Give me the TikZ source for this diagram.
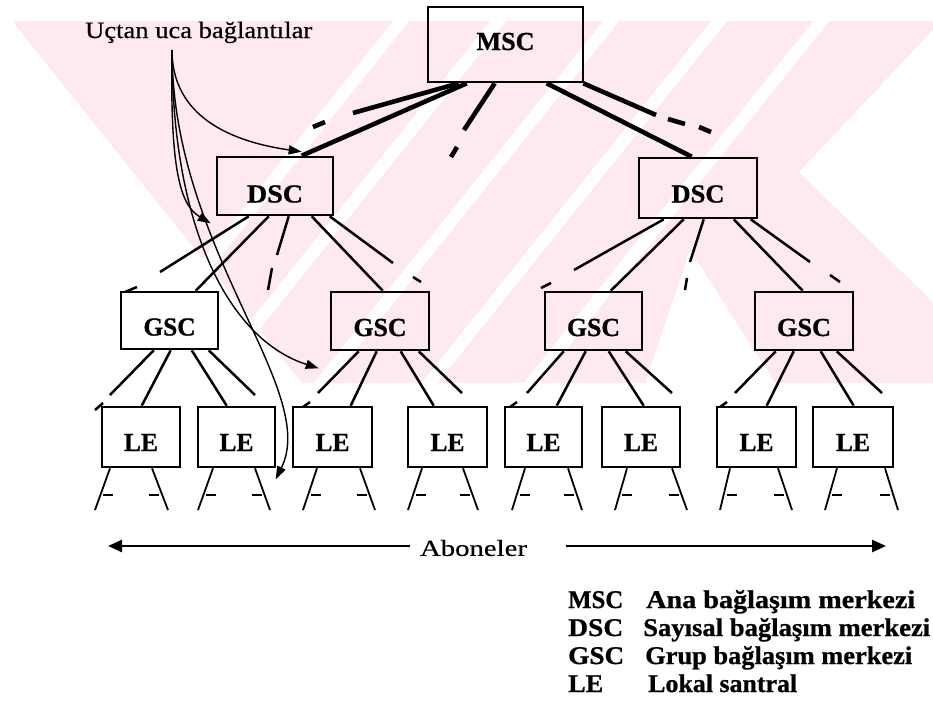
\documentclass[tikz,border=0pt]{standalone}
\usepackage{fontspec}
\setmainfont{Liberation Serif}[UprightFeatures={FakeBold=0.4}, BoldFeatures={FakeBold=0.8}]
\usepackage{graphicx}
\usetikzlibrary{arrows.meta}
\definecolor{wm}{RGB}{253,233,238}
\newcommand\fitw[2]{\resizebox{#1pt}{\height}{#2}}
\newcommand\blab[3]{\raisebox{-#1pt}[0pt][0pt]{\fitw{#2}{#3}}}
\begin{document}
\begin{tikzpicture}[x=1pt,y=-1pt,
  box/.style={draw, line width=2.6pt, rectangle, inner sep=0pt, font=\fontsize{26}{30}\selectfont\bfseries},
  thk/.style={line width=4.6pt},
  ln/.style={line width=2.5pt},
  leg/.style={line width=1.8pt},
  tick/.style={line width=1.3pt},
  cv/.style={line width=1.4pt, -{Triangle[length=13pt,width=9pt]}},
  abarr/.style={line width=2.6pt, -{Triangle[length=14pt,width=12pt]}},
  lgd/.style={anchor=base west, inner sep=0pt, font=\fontsize{25.5}{28}\selectfont\bfseries},
]
\useasboundingbox (0,0) rectangle (933,705);

% watermark
\begin{scope}
\clip (0,21) rectangle (933,383);
\fill[wm] (0,21) rectangle (933,383);
\fill[white] (0,21) -- (12,21) -- (302,383) -- (0,383) -- cycle;
\fill[white] (933,30) -- (799,172) -- (933,302) -- cycle;
\fill[white] (690,250) -- (645,383) -- (775,383) -- cycle;
\foreach \c in {410,507,620,728,830}{
  \fill[white] ({\c-16.8},21) -- ({\c+16-16.8},21) -- ({\c+16-306.4},383) -- ({\c-306.4},383) -- cycle;
}
\end{scope}

% boxes
\node[box, minimum width=155pt, minimum height=75pt] (m) at (505.5,44.5) {\blab{5.5}{58}{MSC}};
\node[box, minimum width=116pt, minimum height=58pt] (dl) at (275,186) {\blab{16.5}{56}{DSC}};
\node[box, minimum width=118pt, minimum height=60pt] (dr) at (698,188) {\blab{14.5}{53}{DSC}};
\node[box, minimum width=97pt, minimum height=57pt] (g1) at (169.5,320.5) {\blab{15}{52}{GSC}};
\node[box, minimum width=98pt, minimum height=58pt] (g2) at (380,321) {\blab{15}{53}{GSC}};
\node[box, minimum width=97pt, minimum height=58pt] (g3) at (593.5,321) {\blab{15}{53}{GSC}};
\node[box, minimum width=98pt, minimum height=58pt] (g4) at (804,321) {\blab{15}{54}{GSC}};
\foreach \n/\x/\w in {le1/141/78, le2/236.5/77, le3/332.5/79, le4/447.5/79, le5/543.5/77, le6/641/78, le7/756.5/79, le8/853/80}{
  \node[box, minimum width=\w pt, minimum height=60pt] (\n) at (\x,437) {\blab{14}{34}{LE}};
}

% MSC links
\draw[thk] ([xshift=32pt]m.south west) -- (353,113);
\draw[thk] (325,122) -- (313,127);
\draw[thk] ([xshift=40pt]m.south west) -- ([xshift=86pt]dl.north west);
\draw[thk] ([xshift=68pt]m.south west) -- (464,130);
\draw[thk] (457,147) -- (451,157);
\draw[thk] ([xshift=120pt]m.south west) -- ([xshift=54pt]dr.north west);
\draw[thk] ([xshift=-1pt]m.south east) -- (656,115);
\draw[thk] (668,119) -- (685,124);
\draw[thk] (699,127) -- (711,132);

% DSC left links
\draw[ln] ([xshift=33pt]dl.south west) -- (160,272);
\draw[ln] (137,287) -- (125,292);
\draw[ln] ([xshift=53pt]dl.south west) -- ([xshift=76pt]g1.north west);
\draw[ln] ([xshift=73pt]dl.south west) -- (277,255);
\draw[ln] (272,268) -- (268,290);
\draw[ln] ([xshift=96pt]dl.south west) -- ([xshift=53pt]g2.north west);
\draw[ln] ([xshift=114pt]dl.south west) -- (393,263);
\draw[ln] (413,277) -- (421,282);

% DSC right links
\draw[ln] ([xshift=26pt]dr.south west) -- (574,270);
\draw[ln] (551,283) -- (541,288);
\draw[ln] ([xshift=46pt]dr.south west) -- ([xshift=67pt]g3.north west);
\draw[ln] ([xshift=66pt]dr.south west) -- (690,262);
\draw[ln] (687,278) -- (685,290);
\draw[ln] ([xshift=96pt]dr.south west) -- ([xshift=49pt]g4.north west);
\draw[ln] ([xshift=113pt]dr.south west) -- (810,262);
\draw[ln] (830,275) -- (840,282);

% GSC links
\draw[ln] ([xshift=34pt]g1.south west) -- (110,395);
\draw[ln] (103,403) -- (95,410);
\draw[ln] ([xshift=51pt]g1.south west) -- ([xshift=41pt]le1.north west);
\draw[ln] ([xshift=72pt]g1.south west) -- ([xshift=30pt]le2.north west);
\draw[ln] ([xshift=89pt]g1.south west) -- (255,395);

\draw[ln] ([xshift=29pt]g2.south west) -- (318,393);
\draw[ln] (310,402) -- (303,407);
\draw[ln] ([xshift=47pt]g2.south west) -- ([xshift=59pt]le3.north west);
\draw[ln] ([xshift=71pt]g2.south west) -- ([xshift=27pt]le4.north west);
\draw[ln] ([xshift=89pt]g2.south west) -- (462,393);

\draw[ln] ([xshift=20pt]g3.south west) -- (527,393);
\draw[ln] (517,402) -- (510,407);
\draw[ln] ([xshift=42pt]g3.south west) -- ([xshift=53pt]le5.north west);
\draw[ln] ([xshift=65pt]g3.south west) -- ([xshift=43pt]le6.north west);
\draw[ln] ([xshift=82pt]g3.south west) -- (672,393);

\draw[ln] ([xshift=22pt]g4.south west) -- (735,393);
\draw[ln] (727,402) -- (720,407);
\draw[ln] ([xshift=40pt]g4.south west) -- ([xshift=51pt]le7.north west);
\draw[ln] ([xshift=67pt]g4.south west) -- ([xshift=42pt]le8.north west);
\draw[ln] ([xshift=83pt]g4.south west) -- (882,393);

% subscriber legs
\foreach \n/\a/\b/\c/\d in {le1/110/95/152/168, le2/213/198/255/270, le3/317/303/360/375, le4/422/408/463/478, le5/525/512/568/582, le6/627/615/672/687, le7/730/720/778/792, le8/837/825/885/898}{
  \draw[leg] (\a,0 |- \n.south) -- (\b,510);
  \draw[leg] (\c,0 |- \n.south) -- (\d,510);
  \pgfmathsetmacro\pa{\b+(\a-\b)*15/43}
  \pgfmathsetmacro\pc{\d+(\c-\d)*15/43}
  \draw[tick] ({\pa+3},495) -- ({\pa+13},495);
  \draw[tick] ({\pc-13},495) -- ({\pc-3},495);
}

% annotation
\node[anchor=base west, inner sep=0pt, font=\fontsize{23.5}{27}\selectfont] (uc) at (85,38) {\fitw{227}{Uçtan uca bağlantılar}};
\coordinate (cs) at (172,50);
\draw[cv] (cs) .. controls (172,110) and (220,140) .. ([xshift=86pt,yshift=4pt]dl.north west);
\draw[cv] (cs) .. controls (170,170) and (180,205) .. ([xshift=-5pt,yshift=-7pt]dl.south west);
\draw[cv] (cs) .. controls (172,230) and (230,340) .. ([xshift=-11pt,yshift=-17pt]g2.south west);
\draw[cv] (cs) .. controls (172,250) and (320,390) .. ([xshift=-16pt,yshift=-11pt]le3.south west);

% Aboneler
\node[inner sep=0pt, font=\fontsize{23}{26}\selectfont] (ab) at (473.5,548) {\fitw{107}{Aboneler}};
\coordinate (abl) at (108,546);
\coordinate (abr) at (886,546);
\draw[abarr] ([xshift=-10pt]ab.west |- abl) -- (abl);
\draw[abarr] ([xshift=39pt]ab.east |- abr) -- (abr);

% legend
\node[lgd] (k1) at (568,608) {\fitw{55}{MSC}};
\node[lgd] (v1) at (646,608) {\fitw{269}{Ana bağlaşım merkezi}};
\node[lgd] (k2) at (568,636) {\fitw{55}{DSC}};
\node[lgd] (v2) at (643,636) {\fitw{287}{Sayısal bağlaşım merkezi}};
\node[lgd] (k3) at (568,664) {\fitw{56}{GSC}};
\node[lgd] (v3) at (645,664) {\fitw{267}{Grup bağlaşım merkezi}};
\node[lgd] (k4) at (568,692) {\fitw{35}{LE}};
\node[lgd] (v4) at (648,692) {\fitw{149}{Lokal santral}};
\end{tikzpicture}
\end{document}
